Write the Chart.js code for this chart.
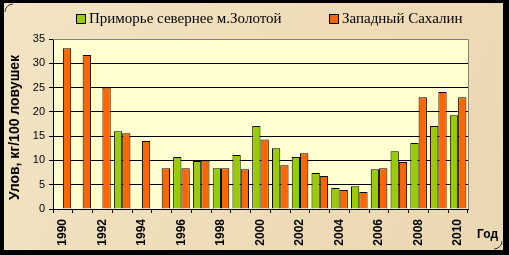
<!DOCTYPE html>
<html><head><meta charset="utf-8">
<script src="https://cdn.jsdelivr.net/npm/chart.js@4/dist/chart.umd.min.js"></script>
<style>html,body{margin:0;padding:0;background:#000;}#wrap{width:509px;height:255px;}</style>
</head><body><div id="wrap"><canvas id="c" width="509" height="255"></canvas></div>
<script>
const years = ['1990','1991','1992','1993','1994','1995','1996','1997','1998','1999','2000','2001','2002','2003','2004','2005','2006','2007','2008','2009','2010'];
const primorye = [null,null,null,16.0,null,null,10.7,9.9,8.4,11.1,17.1,12.5,10.7,7.4,4.3,4.7,8.2,11.9,13.6,17.1,19.3];
const sakhalin = [33.1,31.7,25.0,15.6,14.0,8.4,8.4,10.0,8.4,8.2,14.3,9.0,11.5,6.8,3.9,3.5,8.4,9.7,23.0,24.1,23.0];
const seriesNames = ['Приморье севернее м.Золотой','Западный Сахалин'];
const yTicks = [0,5,10,15,20,25,30,35];
const yTitle = 'Улов, кг/100 ловушек';
const xTitle = 'Год';

const GREEN = '#99CC00', ORANGE = '#FF6600';

const deco = {
  id: 'deco',
  beforeDraw(chart) {
    const ctx = chart.ctx, ca = chart.chartArea;
    ctx.save();
    ctx.fillStyle = '#000';
    ctx.fillRect(0, 0, chart.width, chart.height);
    const g = ctx.createLinearGradient(0, 0, 509, 255);
    g.addColorStop(0, '#F2E4C4');
    g.addColorStop(0.5, '#EEDDB8');
    g.addColorStop(1, '#EAD8B2');
    ctx.fillStyle = g;
    ctx.fillRect(4, 3, 499, 247);
    ctx.fillStyle = '#FFFFD0';
    ctx.fillRect(ca.left, ca.top, ca.right - ca.left, ca.bottom - ca.top);
    ctx.restore();
  },
  beforeDatasetsDraw(chart) {
    const ctx = chart.ctx, ca = chart.chartArea;
    ctx.save();
    ctx.strokeStyle = '#808080';
    ctx.lineWidth = 1;
    ctx.beginPath();
    ctx.moveTo(ca.left, Math.round(ca.top) + 0.5);
    ctx.lineTo(Math.round(ca.right) + 0.5, Math.round(ca.top) + 0.5);
    ctx.lineTo(Math.round(ca.right) + 0.5, ca.bottom);
    ctx.stroke();
    ctx.restore();
  },
  afterDraw(chart) {
    const ctx = chart.ctx, ca = chart.chartArea;
    ctx.save();
    // legend
    ctx.font = '15px "Liberation Serif", "Times New Roman", serif';
    ctx.textBaseline = 'middle';
    ctx.textAlign = 'left';
    const items = [[76, chart.data.datasets[0]], [329, chart.data.datasets[1]]];
    items.forEach(([x, ds]) => {
      ctx.fillStyle = ds.backgroundColor;
      ctx.fillRect(x, 14, 10, 10);
      ctx.strokeStyle = '#000';
      ctx.lineWidth = 1;
      ctx.strokeRect(x + 0.5, 14.5, 9, 9);
      ctx.fillStyle = '#000';
      ctx.fillText(ds.label, x + 13, 19.5);
    });
    // y title
    ctx.font = 'bold 14px "Liberation Sans", Arial, sans-serif';
    ctx.textAlign = 'center';
    ctx.textBaseline = 'alphabetic';
    ctx.translate(18.5, 127.5);
    ctx.rotate(-Math.PI / 2);
    ctx.fillText(yTitle, 0, 0);
    ctx.setTransform(1, 0, 0, 1, 0, 0);
    // x title
    ctx.font = 'bold 12px "Liberation Sans", Arial, sans-serif';
    ctx.textAlign = 'left';
    ctx.fillText(xTitle, 477, 238);
    // corner curls
    ctx.strokeStyle = '#333';
    ctx.lineWidth = 1;
    ctx.beginPath(); ctx.arc(13, 12, 8, Math.PI, 1.5 * Math.PI); ctx.stroke();
    ctx.beginPath(); ctx.arc(494, 241, 8, 0, 0.5 * Math.PI); ctx.stroke();
    ctx.restore();
  }
};

new Chart(document.getElementById('c'), {
  type: 'bar',
  data: {
    labels: years,
    datasets: [
      { label: seriesNames[0], data: primorye, backgroundColor: GREEN, borderColor: '#000', borderWidth: 1 },
      { label: seriesNames[1], data: sakhalin, backgroundColor: ORANGE, borderColor: '#000', borderWidth: 1 }
    ]
  },
  options: {
    responsive: false,
    animation: false,
    devicePixelRatio: 1,
    layout: { padding: { left: 0, top: 39, right: 41, bottom: 0 } },
    plugins: { legend: { display: false }, tooltip: { enabled: false } },
    datasets: { bar: { categoryPercentage: 0.84, barPercentage: 1.0 } },
    scales: {
      x: {
        afterFit(s) { s.height = 46; },
        grid: { display: true, offset: true, drawOnChartArea: false, drawTicks: true, tickLength: 4, tickColor: '#000', color: '#000' },
        border: { display: true, color: '#000', width: 1 },
        ticks: {
          autoSkip: false, maxRotation: 90, minRotation: 90, padding: 6,
          color: '#000', font: { family: '"Liberation Sans", Arial, sans-serif', size: 12, weight: 'bold' },
          callback(v, i) { return i % 2 === 0 ? years[i] : ''; }
        }
      },
      y: {
        min: 0, max: 35,
        afterFit(s) { s.width = 53; },
        afterBuildTicks(s) { s.ticks = yTicks.map(v => ({ value: v })); },
        grid: { color: (c) => c.tick && c.tick.value === 35 ? 'rgba(0,0,0,0)' : '#000', lineWidth: 1, drawTicks: true, tickLength: 4, tickColor: '#000' },
        border: { display: true, color: '#000', width: 1 },
        ticks: { padding: 4, color: '#000', font: { family: '"Liberation Sans", Arial, sans-serif', size: 11 } }
      }
    }
  },
  plugins: [deco]
});
</script></body></html>
